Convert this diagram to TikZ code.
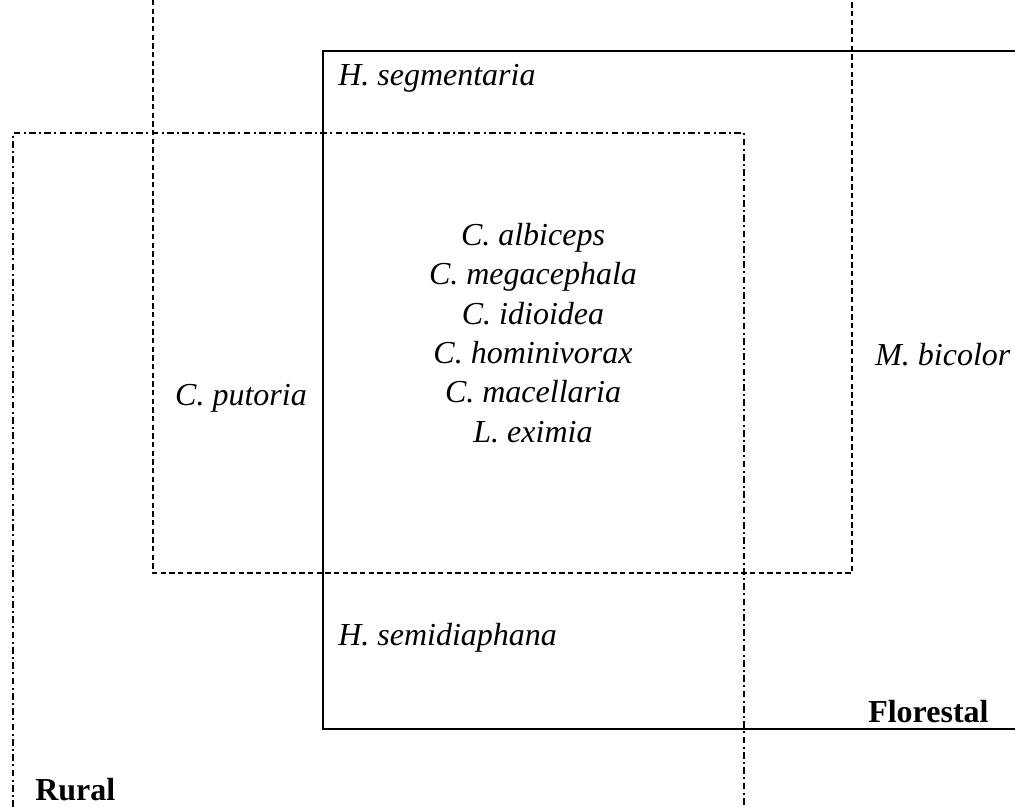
\documentclass[tikz,border=0pt]{standalone}
\usepackage{fontspec}
\setmainfont{Liberation Serif}
\begin{document}
\begin{tikzpicture}[x=0.75pt,y=-0.75pt,
  lbl/.style={inner sep=0pt,font=\fontsize{24}{29.5}\selectfont\itshape},
  blbl/.style={inner sep=0pt,font=\fontsize{24}{29.5}\selectfont\bfseries},
  solidline/.style={line width=1.5pt},
  dashline/.style={line width=1.5pt,dash pattern=on 4pt off 2.5pt},
  dashdotline/.style={line width=1.5pt,dash pattern=on 5pt off 2.5pt on 1.5pt off 2.5pt}]
\useasboundingbox (0,0) rectangle (1015,807);
% Florestal (solid)
\draw[solidline] (1015,51) -- (323,51) -- (323,729) -- (1015,729);
% dashed region
\draw[dashline] (153,0) -- (153,573) -- (852,573) -- (852,0);
% Rural (dash-dot)
\draw[dashdotline] (13,807) -- (13,133) -- (744,133) -- (744,807);
% labels
\node[lbl,anchor=base west] (hseg) at (338,85) {H. segmentaria};
\node[lbl,anchor=base west] (hsemi) at (338,645) {H. semidiaphana};
\node[lbl,anchor=base,align=center] (mid) at (533,442) {C. albiceps\\C. megacephala\\C. idioidea\\C. hominivorax\\C. macellaria\\L. eximia};
\node[lbl,anchor=base] (cput) at (241,405) {C. putoria};
\node[lbl,anchor=base west] (mbic) at (875,365) {M. bicolor};
\node[blbl,anchor=base west] (flor) at (868,722) {Florestal};
\node[blbl,anchor=base west] (rural) at (35,800) {Rural};
\end{tikzpicture}
\end{document}
